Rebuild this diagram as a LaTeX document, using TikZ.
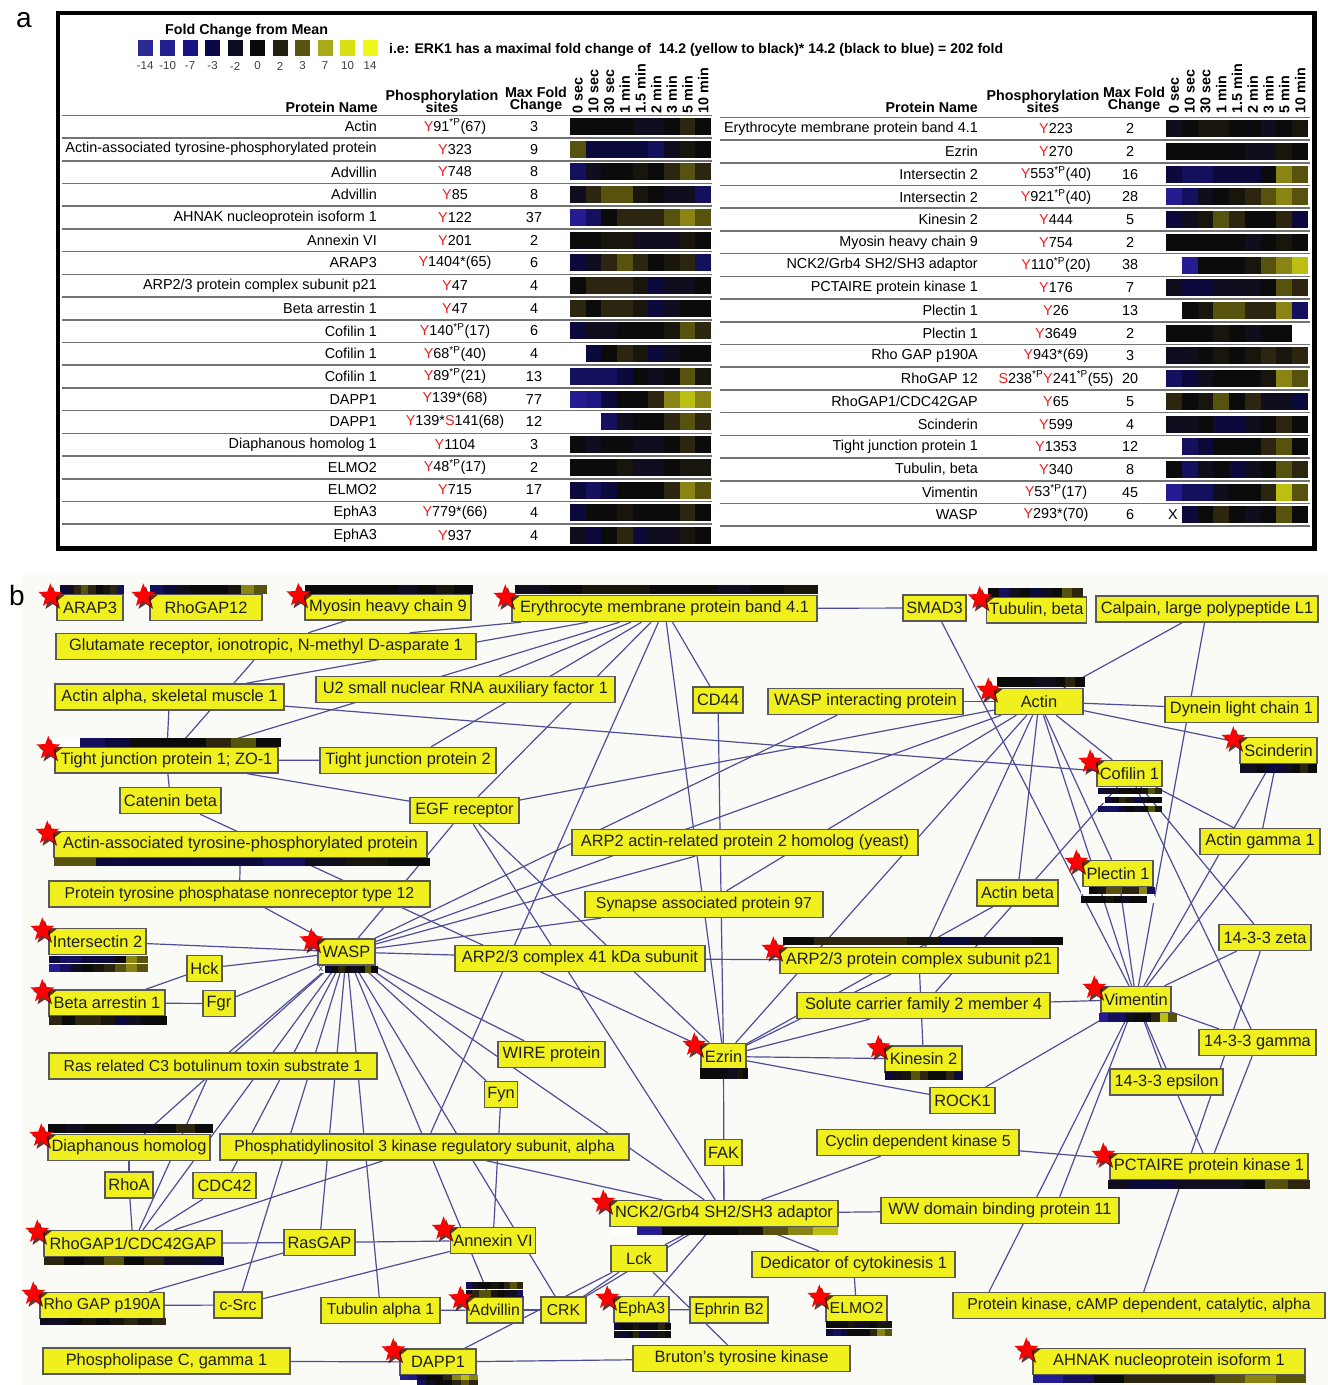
\documentclass[tikz,border=0pt]{standalone}
\usepackage{fontspec}
\setmainfont{Liberation Sans}
\usetikzlibrary{shapes.geometric}
\pgfdeclarelayer{bgl}
\pgfdeclarelayer{edgel}
\pgfsetlayers{bgl,edgel,main}
\definecolor{hk}{HTML}{0C0B0B}
\definecolor{hn0}{HTML}{100E1E}
\definecolor{hn1}{HTML}{0C0A3C}
\definecolor{hn2}{HTML}{14105E}
\definecolor{hb2}{HTML}{1E1682}
\definecolor{hb3}{HTML}{261C92}
\definecolor{hy0}{HTML}{18160C}
\definecolor{hy1}{HTML}{2C2610}
\definecolor{hy2}{HTML}{58520F}
\definecolor{hy3}{HTML}{8A8414}
\definecolor{hy4}{HTML}{BCBE12}
\definecolor{hw}{HTML}{FFFFFF}
\definecolor{netyellow}{HTML}{F0F01E}
\definecolor{edgeblue}{HTML}{4E4E98}
\definecolor{sitered}{HTML}{F01E1E}
\definecolor{netbg}{HTML}{FAFAF6}
\definecolor{lg1}{HTML}{2A2A92}
\definecolor{lg2}{HTML}{22208C}
\definecolor{lg3}{HTML}{1A1282}
\definecolor{lg4}{HTML}{0A0848}
\definecolor{lg5}{HTML}{0C0C22}
\definecolor{lg6}{HTML}{0A0A0A}
\definecolor{lg7}{HTML}{221E10}
\definecolor{lg8}{HTML}{585416}
\definecolor{lg9}{HTML}{A8AA1C}
\definecolor{lg10}{HTML}{D8E012}
\definecolor{lg11}{HTML}{F2F61A}
\newcommand\Yr{\textcolor{sitered}{Y}}
\newcommand\Sr{\textcolor{sitered}{S}}
\newcommand\sP{\textsuperscript{*P}}
\newcommand\fs[1]{\fontsize{#1}{#1}\selectfont}
% heat map rows
\def\rActin{k,k,k,k,n0,n0,k,y1,k}
\def\rAAT{y2,n1,n1,n1,n1,n2,n0,y0,k}
\def\rAdvA{n2,n0,k,k,y0,k,y1,y2,y1}
\def\rAdvB{n0,y1,y2,y2,y0,k,n0,n0,n2}
\def\rAHNAK{b3,n2,k,y1,y1,y1,y2,y3,y2}
\def\rAnnex{k,k,y0,y0,n0,n0,n0,y0,k}
\def\rARAP{n1,n0,y1,y2,y1,k,y0,y1,n2}
\def\rARPp{k,y1,y1,y1,y0,n1,n0,n0,k}
\def\rBarr{y1,k,y1,y1,y0,n1,n0,k,k}
\def\rCofA{n1,n0,n0,k,k,k,y0,y2,y1}
\def\rCofB{w,n1,k,y1,y0,n1,n0,k,k}
\def\rCofC{n2,n2,n2,n1,k,n0,k,y2,y0}
\def\rDAPA{b3,b2,n1,k,k,y1,y3,y4,y3}
\def\rDAPB{w,w,n2,n0,k,k,y1,y2,y1}
\def\rDia{k,n0,k,k,n0,n0,k,y1,k}
\def\rELMA{k,k,k,y0,n0,n0,k,y0,y0}
\def\rELMB{n1,n2,n1,k,k,k,y1,y3,y2}
\def\rEphA{n1,k,k,y0,k,k,k,y1,k}
\def\rEphB{n0,n1,k,y1,n1,n0,n0,y0,k}
\def\rEry{n0,k,y0,y0,k,k,n0,k,y0}
\def\rEzr{k,k,k,k,k,n0,n0,y0,k}
\def\rIntA{n1,n2,n2,n1,n1,n1,k,y3,y2}
\def\rIntB{b3,n2,n0,k,y0,y1,y2,y3,y2}
\def\rKin{n1,n0,y0,y2,y1,k,k,y1,n1}
\def\rMyo{k,k,k,k,k,n0,k,y0,k}
\def\rNCK{w,b3,k,k,k,y0,y2,y3,y4}
\def\rPCT{n0,n1,n1,n0,n0,n0,k,y2,y1}
\def\rPleA{w,k,y0,y2,y2,y1,y1,y3,n2}
\def\rPleB{k,k,k,y0,k,n0,k,k,w}
\def\rRho{n0,n0,k,y0,k,y0,y1,y0,y1}
\def\rRGT{n2,n1,n0,k,k,k,y0,y3,y2}
\def\rRGO{y1,k,y0,y2,k,y1,n0,n0,n1}
\def\rSci{n0,n0,k,n1,n1,n0,k,y1,k}
\def\rTJP{w,n2,n1,k,k,k,y1,y2,k}
\def\rTub{k,n2,n0,k,n1,n0,k,y2,y1}
\def\rVim{b3,n2,n2,n0,k,k,y1,y4,y2}
\def\rWASP{w,n1,k,y1,k,n0,k,y2,k}
\newcommand\hstrip[5]{%
  \pgfmathsetmacro\hsw{(#3)/9}%
  \foreach \cc [count=\ii from 0] in #5 {%
    \fill[fill=h\cc] ({#1+\ii*\hsw},{#2}) rectangle ++(\hsw+0.3,#4);%
  }%
}
\newcommand\lrow[5]{%
  \pgfmathsetmacro\ry{126.5+22.72*(#1-1)}%
  \node[tname,anchor=east] at (377,\ry) {#2};%
  \node[tname] at (455,\ry) {#3};%
  \node[tname] at (534,\ry) {#4};%
  \hstrip{570}{\ry-8.5}{141}{17}{#5}%
}
\newcommand\rrow[5]{%
  \pgfmathsetmacro\ry{128.7+22.72*(#1-1)}%
  \node[tname,anchor=east] at (978,\ry) {#2};%
  \node[tname] at (1056,\ry) {#3};%
  \node[tname] at (1130,\ry) {#4};%
  \hstrip{1166}{\ry-8.5}{142}{17}{#5}%
}
\newcommand\pn[6][]{\node[pnode,minimum width=#5pt,#1] (#2) at (#3,#4) {#6};}
\newcommand\pstar[1]{%
  \node[starsh,fill=black!70!red,opacity=.8] at ([xshift=-3.5pt,yshift=-5pt]#1.north west) {};%
  \node[starsh,fill=red] at ([xshift=-6pt,yshift=-2pt]#1.north west) {};%
}
\tikzset{
  tname/.style={font=\fs{14.4},inner sep=0pt},
  thead/.style={font=\bfseries\fs{14.3},inner sep=0pt},
  pnode/.style={draw=black!65,line width=1.4pt,fill=netyellow,text=black!88,
    font=\fs{16.4},minimum height=26pt,inner xsep=3pt,inner ysep=2pt},
  sm/.style={font=\fs{15.8}},
  edge/.style={draw=edgeblue,line width=1.2pt},
  starsh/.style={star,star points=5,star point ratio=2.4,minimum size=25pt,inner sep=0pt,draw=none}
}
\begin{document}
\begin{tikzpicture}[x=1pt,y=-1pt]
\useasboundingbox (0,0) rectangle (1328,1385);
\begin{pgfonlayer}{bgl}
\fill[white] (0,0) rectangle (1328,1385);
\fill[netbg] (22,575) rectangle (1328,1385);
\end{pgfonlayer}
% ---------------- panel a
\node[font=\fs{28},anchor=base west,inner sep=0] (la) at (16,27) {a};
\draw[line width=4.5pt] (58,13) rectangle (1314.5,548.5);
\node[font=\bfseries\fs{14.3},anchor=base west,inner sep=0] (lgt) at (165,34) {Fold Change from Mean};
\foreach \c [count=\i from 0] in {lg1,lg2,lg3,lg4,lg5,lg6,lg7,lg8,lg9,lg10,lg11}
  \fill[\c] ({137.6+\i*22.5},40) rectangle ++(15,16);
\foreach \t [count=\i from 0] in {-14,-10,-7,-3,-2,0,2,3,7,10,14}
  \node[font=\fs{11.5},text=black!75,inner sep=0] at ({145.1+\i*22.5},66) {\t};
\node[font=\bfseries\fs{14},anchor=base west,inner sep=0] (lgn) at (389,53) {i.e: ERK1 has a maximal fold change of\ \ 14.2 (yellow to black)* 14.2 (black to blue) = 202 fold};
% headers
\node[thead,anchor=base east] (h1) at (378,112) {Protein Name};
\node[thead,anchor=base] (h2) at (442,100) {Phosphorylation};
\node[thead,anchor=base] (h3) at (442,112) {sites};
\node[thead,anchor=base] (h4) at (536,97) {Max Fold};
\node[thead,anchor=base] (h5) at (536,109) {Change};
\node[thead,anchor=base east] (h6) at (978,112) {Protein Name};
\node[thead,anchor=base] (h7) at (1043,100) {Phosphorylation};
\node[thead,anchor=base] (h8) at (1043,112) {sites};
\node[thead,anchor=base] (h9) at (1134,97) {Max Fold};
\node[thead,anchor=base] (h10) at (1134,109) {Change};
\foreach \t [count=\i from 0] in {0 sec,10 sec,30 sec,1 min,1.5 min,2 min,3 min,5 min,10 min}{
  \node[thead,rotate=90,anchor=west] at ({577.8+\i*15.67},113.5) {\t};
  \node[thead,rotate=90,anchor=west] at ({1173.9+\i*15.78},113.5) {\t};
}
% separators
\foreach \i in {0,...,18}{
  \draw[black!55,line width=1.6pt] (62,{115.3+22.72*\i}) -- (712,{115.3+22.72*\i});
  \draw[black!55,line width=1.6pt] (720,{117.3+22.72*\i}) -- (1310,{117.3+22.72*\i});
}
% left table
\lrow{1}{Actin}{\Yr91\sP(67)}{3}{\rActin}
\lrow{2}{Actin-associated tyrosine-phosphorylated protein}{\Yr323}{9}{\rAAT}
\lrow{3}{Advillin}{\Yr748}{8}{\rAdvA}
\lrow{4}{Advillin}{\Yr85}{8}{\rAdvB}
\lrow{5}{AHNAK nucleoprotein isoform 1}{\Yr122}{37}{\rAHNAK}
\lrow{6}{Annexin VI}{\Yr201}{2}{\rAnnex}
\lrow{7}{ARAP3}{\Yr1404*(65)}{6}{\rARAP}
\lrow{8}{ARP2/3 protein complex subunit p21}{\Yr47}{4}{\rARPp}
\lrow{9}{Beta arrestin 1}{\Yr47}{4}{\rBarr}
\lrow{10}{Cofilin 1}{\Yr140\sP(17)}{6}{\rCofA}
\lrow{11}{Cofilin 1}{\Yr68\sP(40)}{4}{\rCofB}
\lrow{12}{Cofilin 1}{\Yr89\sP(21)}{13}{\rCofC}
\lrow{13}{DAPP1}{\Yr139*(68)}{77}{\rDAPA}
\lrow{14}{DAPP1}{\Yr139*\Sr141(68)}{12}{\rDAPB}
\lrow{15}{Diaphanous homolog 1}{\Yr1104}{3}{\rDia}
\lrow{16}{ELMO2}{\Yr48\sP(17)}{2}{\rELMA}
\lrow{17}{ELMO2}{\Yr715}{17}{\rELMB}
\lrow{18}{EphA3}{\Yr779*(66)}{4}{\rEphA}
\lrow{19}{EphA3}{\Yr937}{4}{\rEphB}
% right table
\rrow{1}{Erythrocyte membrane protein band 4.1}{\Yr223}{2}{\rEry}
\rrow{2}{Ezrin}{\Yr270}{2}{\rEzr}
\rrow{3}{Intersectin 2}{\Yr553\sP(40)}{16}{\rIntA}
\rrow{4}{Intersectin 2}{\Yr921\sP(40)}{28}{\rIntB}
\rrow{5}{Kinesin 2}{\Yr444}{5}{\rKin}
\rrow{6}{Myosin heavy chain 9}{\Yr754}{2}{\rMyo}
\rrow{7}{NCK2/Grb4 SH2/SH3 adaptor}{\Yr110\sP(20)}{38}{\rNCK}
\rrow{8}{PCTAIRE protein kinase 1}{\Yr176}{7}{\rPCT}
\rrow{9}{Plectin 1}{\Yr26}{13}{\rPleA}
\rrow{10}{Plectin 1}{\Yr3649}{2}{\rPleB}
\rrow{11}{Rho GAP p190A}{\Yr943*(69)}{3}{\rRho}
\rrow{12}{RhoGAP 12}{\Sr238\sP\Yr241\sP(55)}{20}{\rRGT}
\rrow{13}{RhoGAP1/CDC42GAP}{\Yr65}{5}{\rRGO}
\rrow{14}{Scinderin}{\Yr599}{4}{\rSci}
\rrow{15}{Tight junction protein 1}{\Yr1353}{12}{\rTJP}
\rrow{16}{Tubulin, beta}{\Yr340}{8}{\rTub}
\rrow{17}{Vimentin}{\Yr53\sP(17)}{45}{\rVim}
\rrow{18}{WASP}{\Yr293*(70)}{6}{\rWASP}
\node[tname] (xw) at (1173,515) {X};
% ---------------- panel b
\node[font=\fs{28},anchor=base west,inner sep=0] (lb) at (9,605) {b};
\pn{arap}{90}{607.5}{66}{ARAP3}
\pn{rg12}{206}{607.5}{112}{RhoGAP12}
\pn{myo}{388}{607}{166}{Myosin heavy chain 9}
\pn{ery}{664.5}{608.5}{305}{Erythrocyte membrane protein band 4.1}
\pn{smad}{934.5}{608}{63}{SMAD3}
\pn{tubb}{1036.5}{610}{93}{Tubulin, beta}
\pn{calp}{1207}{609}{222}{Calpain, large polypeptide L1}
\pn{glu}{266}{646.5}{420}{Glutamate receptor, ionotropic, N-methyl D-asparate 1}
\pn{aas}{169.5}{697}{229}{Actin alpha, skeletal muscle 1}
\pn{u2}{465.5}{689.5}{299}{U2 small nuclear RNA auxiliary factor 1}
\pn{cd44}{718}{700}{50}{CD44}
\pn{wip}{865.5}{701.5}{195}{WASP interacting protein}
\pn{actin}{1039}{701.5}{88}{Actin}
\pn{dyn}{1241.5}{709.5}{153}{Dynein light chain 1}
\pn{tjp1}{166.5}{760}{223}{Tight junction protein 1; ZO-1}
\pn{tjp2}{408}{760.5}{176}{Tight junction protein 2}
\pn{sci}{1278.5}{750.5}{77}{Scinderin}
\pn{cof}{1129.5}{773.5}{65}{Cofilin 1}
\pn{cat}{170.5}{800.5}{101}{Catenin beta}
\pn{egfr}{464.5}{810.5}{109}{EGF receptor}
\pn{aat}{240.5}{844.5}{373}{Actin-associated tyrosine-phosphorylated protein}
\pn{arp2h}{745}{842.5}{346}{ARP2 actin-related protein 2 homolog (yeast)}
\pn{actg}{1260}{841.5}{120}{Actin gamma 1}
\pn{ple}{1118}{873.5}{70}{Plectin 1}
\pn[sm]{ptp}{239.5}{894}{381}{Protein tyrosine phosphatase nonreceptor type 12}
\pn[sm]{sap}{704}{904.5}{238}{Synapse associated protein 97}
\pn{actb}{1017.5}{893}{81}{Actin beta}
\pn{itsn}{97.5}{941.5}{97}{Intersectin 2}
\pn{wasp}{346.5}{952}{57}{WASP}
\pn{arp41}{580}{958.5}{250}{ARP2/3 complex 41 kDa subunit}
\pn{p21}{919}{960.5}{278}{ARP2/3 protein complex subunit p21}
\pn{z1433}{1265}{937.5}{92}{14-3-3 zeta}
\pn{hck}{204.5}{968.5}{35}{Hck}
\pn{barr}{107}{1003}{116}{Beta arrestin 1}
\pn{fgr}{219}{1003.5}{32}{Fgr}
\pn{slc}{923.5}{1005.5}{253}{Solute carrier family 2 member 4}
\pn{vim}{1136}{999.5}{70}{Vimentin}
\pn{g1433}{1257.5}{1042.5}{117}{14-3-3 gamma}
\pn{wire}{551.5}{1054.5}{107}{WIRE protein}
\pn{ezr}{723.5}{1056.5}{45}{Ezrin}
\pn{kin}{923.5}{1059}{77}{Kinesin 2}
\pn[sm]{rac}{213}{1066}{328}{Ras related C3 botulinum toxin substrate 1}
\pn{e1433}{1166.5}{1082}{113}{14-3-3 epsilon}
\pn{fyn}{501}{1094.5}{32}{Fyn}
\pn{rock}{962.5}{1100.5}{65}{ROCK1}
\pn{dia}{129}{1147.5}{162}{Diaphanous homolog}
\pn[sm]{pi3k}{424.5}{1147}{409}{Phosphatidylinositol 3 kinase regulatory subunit, alpha}
\pn{fak}{723.5}{1152.5}{35}{FAK}
\pn[sm]{cdk5}{918}{1142.5}{202}{Cyclin dependent kinase 5}
\pn{pct}{1209}{1166.5}{198}{PCTAIRE protein kinase 1}
\pn{rhoa}{129}{1185}{48}{RhoA}
\pn{cdc42}{224.5}{1185.5}{63}{CDC42}
\pn{nck}{724}{1213.5}{228}{NCK2/Grb4 SH2/SH3 adaptor}
\pn{wbp}{1000}{1210.5}{238}{WW domain binding protein 11}
\pn{rgap1}{133}{1243.5}{178}{RhoGAP1/CDC42GAP}
\pn{rasgap}{319.5}{1242.5}{71}{RasGAP}
\pn{anx}{493}{1240.5}{84}{Annexin VI}
\pn{lck}{639}{1258.5}{56}{Lck}
\pn{dock}{853.5}{1264.5}{203}{Dedicator of cytokinesis 1}
\pn[sm]{p190}{102}{1305.5}{124}{Rho GAP p190A}
\pn[sm]{csrc}{238}{1305}{48}{c-Src}
\pn[sm]{tuba}{380.5}{1310.5}{119}{Tubulin alpha 1}
\pn[sm]{advil}{495}{1310}{54}{Advillin}
\pn[sm]{crk}{563.5}{1310}{45}{CRK}
\pn[sm]{epha}{641.5}{1309.5}{55}{EphA3}
\pn[sm]{efnb}{729}{1310}{78}{Ephrin B2}
\pn[sm]{elmo}{856.5}{1308.5}{61}{ELMO2}
\pn[sm]{pka}{1139}{1305.5}{372}{Protein kinase, cAMP dependent, catalytic, alpha}
\pn{plcg}{166.5}{1361}{247}{Phospholipase C, gamma 1}
\pn{dapp}{438}{1362}{76}{DAPP1}
\pn{btk}{741.5}{1358.5}{217}{Bruton's tyrosine kinase}
\pn{ahnak}{1169}{1361.5}{272}{AHNAK nucleoprotein isoform 1}
% edges
\begin{pgfonlayer}{edgel}
\foreach \a/\b in {ery/glu,ery/smad,ery/tjp2,ery/tjp1,ery/egfr,ery/pi3k,ery/ezr,ery/cd44,ery/u2,ery/aas,
  myo/glu,glu/tjp1,aas/tjp1,aas/cof,tjp1/tjp2,tjp1/cat,tjp1/egfr,cat/ezr,
  aat/ptp,ptp/wasp,itsn/wasp,hck/wasp,hck/barr,barr/fgr,fgr/wasp,wasp/arp41,arp41/p21,
  wip/wasp,wip/actin,actin/wasp,actin/calp,actin/dyn,actin/sci,actin/cof,actin/ple,actin/actb,actin/p21,actin/ezr,actin/sap,actin/vim,actin/egfr,
  smad/vim,calp/vim,cof/actg,cof/z1433,cof/g1433,cof/slc,sci/actg,sci/vim,actg/vim,ple/vim,z1433/vim,z1433/pka,g1433/vim,g1433/pct,e1433/vim,vim/slc,vim/rock,vim/pct,
  ezr/p21,ezr/slc,ezr/rock,ezr/kin,ezr/fak,ezr/nck,ezr/cd44,egfr/nck,egfr/ezr,actb/ezr,kin/p21,cdk5/pct,cdk5/nck,
  wasp/rac,wasp/dia,wasp/rgap1,wasp/cdc42,wasp/rasgap,wasp/csrc,wasp/advil,wasp/crk,wasp/nck,wasp/wire,wasp/fyn,wasp/arp2h,wasp/sap,wasp/egfr,wasp/tuba,
  rac/rgap1,dia/rhoa,rhoa/rgap1,cdc42/rgap1,pi3k/rgap1,pi3k/nck,rgap1/rasgap,rasgap/anx,p190/rasgap,p190/csrc,anx/fyn,anx/csrc,
  tuba/advil,advil/crk,crk/lck,crk/nck,lck/dapp,lck/nck,epha/efnb,epha/nck,dapp/plcg,dapp/btk,nck/wbp,nck/dock,dock/elmo,btk/lck,fak/nck}
  \draw[edge] (\a) -- (\b);
\draw[edge] (vim) -- ([xshift=-150pt]pka.north);
\draw[edge] (vim) -- ([xshift=-60pt]wbp.north east);
\end{pgfonlayer}
% strips
\hstrip{60}{585}{64}{9}{\rARAP}
\hstrip{150}{585}{117}{9}{\rRGT}
\hstrip{305}{585}{168}{9}{\rMyo}
\hstrip{515}{585}{303}{9}{\rEry}
\hstrip{988}{588}{95}{9}{\rTub}
\hstrip{997}{677}{88}{10}{\rActin}
\hstrip{55}{738}{226}{9}{\rTJP}
\hstrip{1240}{764}{77}{9}{\rSci}
\hstrip{1098}{788}{64}{6}{\rCofA}
\hstrip{1098}{797}{64}{6}{\rCofB}
\hstrip{1098}{806}{64}{6}{\rCofC}
\hstrip{54}{858}{376}{8}{\rAAT}
\hstrip{1081}{887}{74}{7}{\rPleA}
\hstrip{1081}{896}{74}{7}{\rPleB}
\hstrip{49}{956}{99}{7}{\rIntA}
\hstrip{49}{964}{99}{8}{\rIntB}
\hstrip{318}{966}{60}{7}{\rWASP}
\node[font=\fs{7},inner sep=0] (xw2) at (321,969.5) {X};
\hstrip{783}{937}{280}{8}{\rARPp}
\hstrip{49}{1016}{118}{9}{\rBarr}
\hstrip{1099}{1013}{78}{9}{\rVim}
\hstrip{700}{1068}{48}{11}{\rEzr}
\hstrip{885}{1071}{78}{9}{\rKin}
\hstrip{48}{1124}{165}{9}{\rDia}
\hstrip{1108}{1180}{202}{9}{\rPCT}
\hstrip{612}{1227}{226}{8}{\rNCK}
\hstrip{44}{1257}{180}{8}{\rRGO}
\hstrip{40}{1318}{126}{7}{\rRho}
\hstrip{466}{1282}{57}{7}{\rAdvA}
\hstrip{466}{1290}{57}{7}{\rAdvB}
\hstrip{614}{1323}{57}{7}{\rEphA}
\hstrip{614}{1331}{57}{7}{\rEphB}
\hstrip{826}{1321}{66}{7}{\rELMA}
\hstrip{826}{1329}{66}{7}{\rELMB}
\hstrip{400}{1375}{78}{5}{\rDAPA}
\hstrip{400}{1380}{78}{5}{\rDAPB}
\hstrip{1033}{1375}{273}{8}{\rAHNAK}
% stars
\foreach \s in {arap,rg12,myo,ery,tubb,actin,tjp1,sci,cof,aat,ple,itsn,wasp,p21,barr,vim,ezr,kin,dia,pct,nck,rgap1,anx,p190,advil,epha,elmo,dapp,ahnak}
  {\pstar{\s}}
\end{tikzpicture}
\end{document}
